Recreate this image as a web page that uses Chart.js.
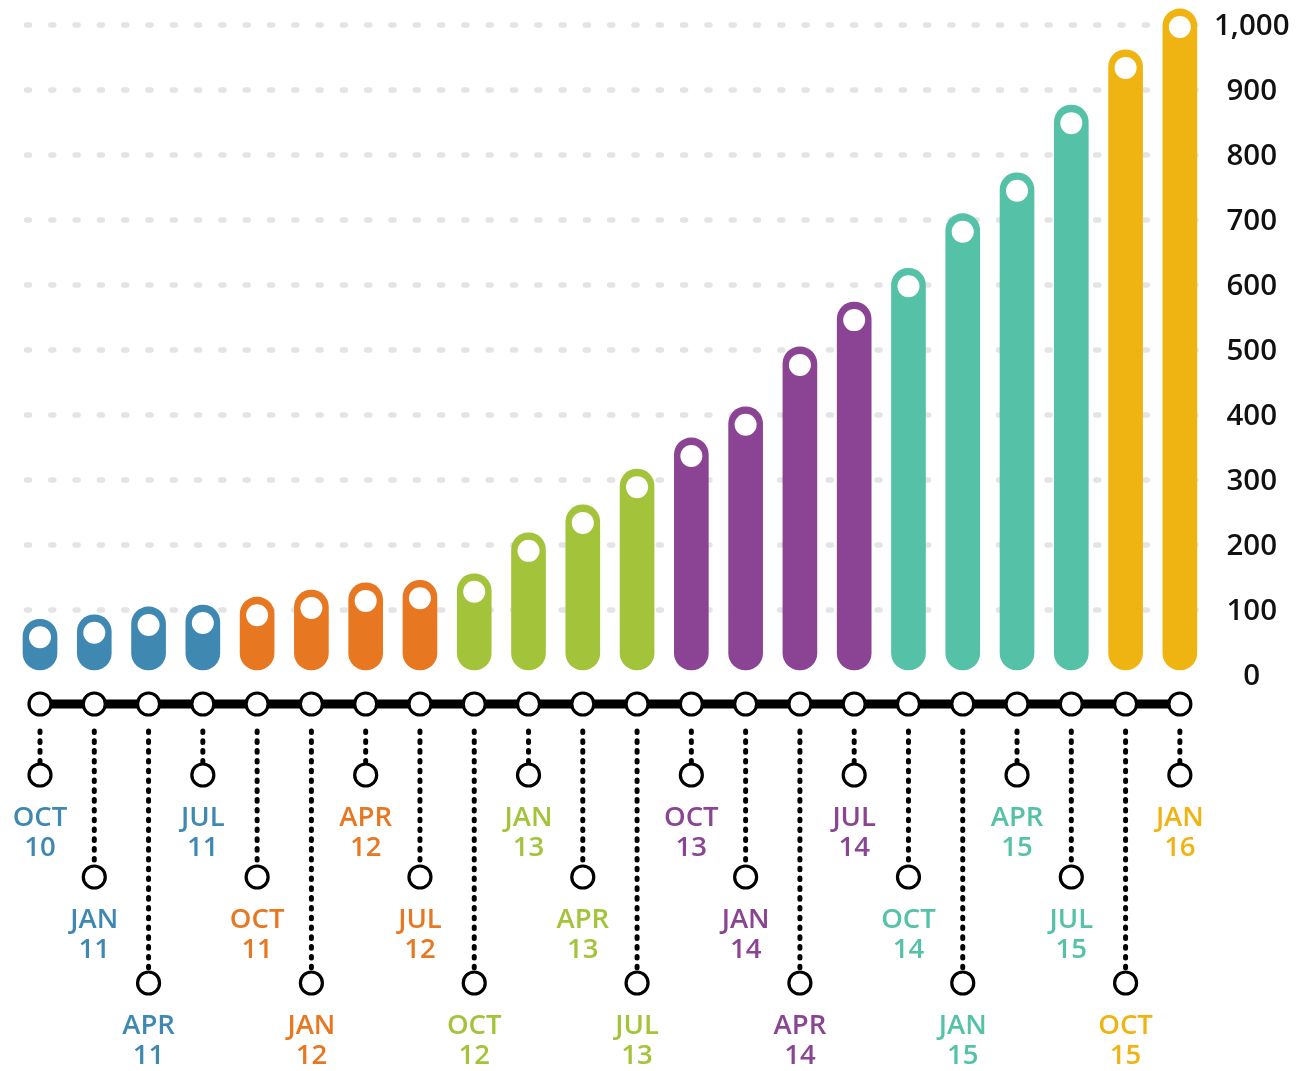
<!DOCTYPE html>
<html><head><meta charset="utf-8">
<script src="https://cdn.jsdelivr.net/npm/chart.js@4"></script>
<style>html,body{margin:0;padding:0;background:#fff;overflow:hidden}</style>
</head><body>
<canvas id="c" width="1310" height="1071"></canvas>
<script>
const categories = ['OCT 10','JAN 11','APR 11','JUL 11','OCT 11','JAN 12','APR 12','JUL 12','OCT 12','JAN 13','APR 13','JUL 13','OCT 13','JAN 14','APR 14','JUL 14','OCT 14','JAN 15','APR 15','JUL 15','OCT 15','JAN 16'];
const values = [58,65,77,80,92,103,114,118,128,191,234,289,337,385,477,546,598,682,745,849,934,997];
const groups = [0,0,0,0,1,1,1,1,2,2,2,2,3,3,3,3,4,4,4,4,5,5];
const palette = ['#3f88b2','#e87722','#a3c43a','#8b4394','#55c2a8','#f0b412'];
const yTicks = [0,100,200,300,400,500,600,700,800,900,1000];

const colors = groups.map(g => palette[g]);

const deco = {
  id: 'deco',
  beforeDatasetsDraw(chart) {
    const {ctx, scales: {x, y}} = chart;
    ctx.save();
    ctx.strokeStyle = '#e3e4e6';
    ctx.lineWidth = 5.5;
    ctx.lineCap = 'round';
    ctx.setLineDash([3, 21.3]);
    yTicks.forEach(t => {
      if (t === 0) return;
      const py = y.getPixelForValue(t);
      ctx.beginPath();
      ctx.moveTo(26.5, py);
      ctx.lineTo(1196, py);
      ctx.stroke();
    });
    ctx.restore();
    const meta = chart.getDatasetMeta(1);
    meta.data.forEach((bar, i) => {
      bar.y = y.getPixelForValue(values[i]) - 18;
      bar.base = y.getPixelForValue(0) - 5;
    });
  },
  afterDatasetsDraw(chart) {
    const {ctx, scales: {x, y}} = chart;
    const lineY = y.getPixelForValue(0) + 29;
    const offs = [71, 173, 279];
    ctx.save();
    // dotted connectors
    ctx.strokeStyle = '#000';
    ctx.lineWidth = 5;
    ctx.lineCap = 'round';
    ctx.setLineDash([1.6, 8.2]);
    categories.forEach((c, i) => {
      const px = x.getPixelForValue(i);
      const ly = lineY + offs[i % 3];
      ctx.beginPath();
      ctx.moveTo(px, lineY + 27);
      ctx.lineTo(px, ly - 12);
      ctx.stroke();
    });
    ctx.setLineDash([]);
    // main line
    ctx.lineWidth = 9;
    ctx.lineCap = 'butt';
    ctx.beginPath();
    ctx.moveTo(x.getPixelForValue(0), lineY);
    ctx.lineTo(x.getPixelForValue(categories.length - 1), lineY);
    ctx.stroke();
    // circles
    ctx.lineWidth = 3.2;
    categories.forEach((c, i) => {
      const px = x.getPixelForValue(i);
      const ly = lineY + offs[i % 3];
      [lineY, ly].forEach(cy => {
        ctx.beginPath();
        ctx.arc(px, cy, 11, 0, Math.PI * 2);
        ctx.fillStyle = '#fff';
        ctx.fill();
        ctx.stroke();
      });
      const parts = c.split(' ');
      ctx.fillStyle = colors[i];
      ctx.font = '600 27.5px "Open Sans"';
      ctx.textAlign = 'center';
      ctx.textBaseline = 'middle';
      ctx.fillText(parts[0], px, ly + 43);
      ctx.fillText(parts[1], px, ly + 73);
    });
    ctx.restore();
  }
};

new Chart(document.getElementById('c'), {
  type: 'bar',
  data: {
    labels: categories,
    datasets: [
      {
        type: 'line',
        data: values,
        showLine: false,
        pointRadius: 11,
        pointHoverRadius: 11,
        pointBackgroundColor: '#fff',
        pointBorderWidth: 0,
        borderColor: 'rgba(0,0,0,0)',
        clip: false,
        order: 0
      },
      {
        type: 'bar',
        data: values,
        backgroundColor: colors,
        barThickness: 34,
        borderRadius: 17,
        borderSkipped: false,
        clip: false,
        order: 1
      }
    ]
  },
  options: {
    responsive: false,
    animation: false,
    events: [],
    layout: { padding: { left: 12.86, right: 0, top: 25, bottom: 396 } },
    plugins: { legend: { display: false }, tooltip: { enabled: false } },
    scales: {
      x: { display: false, offset: true },
      y: {
        position: 'right',
        min: 0, max: 1000,
        afterFit(scale) { scale.width = 103; },
        grid: { display: false, drawTicks: false },
        border: { display: false },
        ticks: {
          stepSize: 100,
          crossAlign: 'center',
          padding: 7,
          labelOffset: 2,
          color: '#111',
          font: { family: 'Open Sans', size: 29.5, weight: '600' }
        }
      }
    }
  },
  plugins: [deco]
});
</script>
</body></html>
